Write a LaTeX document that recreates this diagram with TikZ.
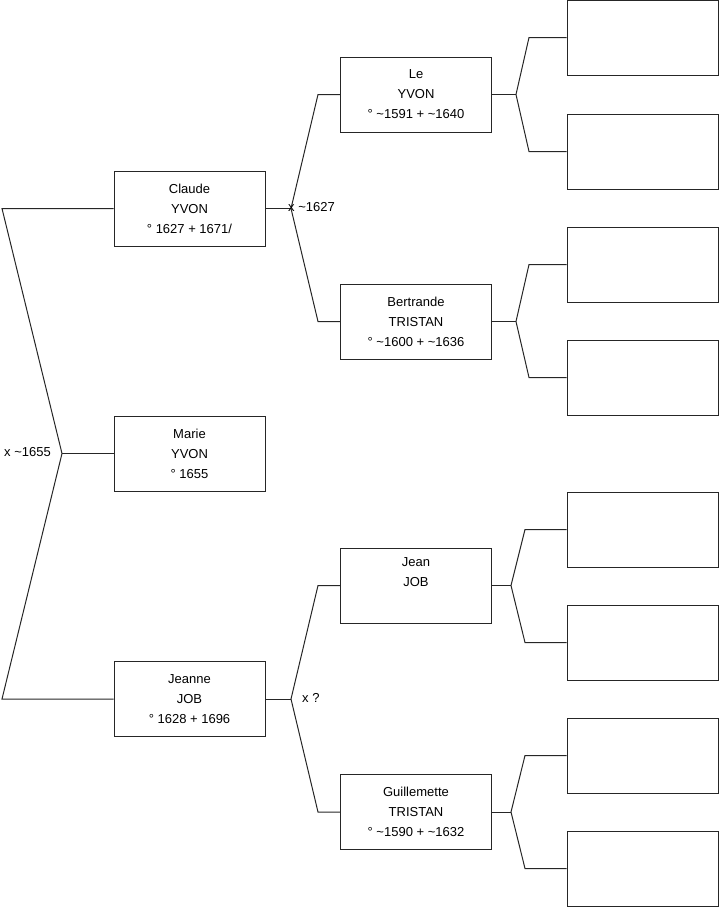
\documentclass[tikz,border=0pt]{standalone}
\usepackage{fontspec}
\setmainfont{Liberation Sans}
\begin{document}
\begin{tikzpicture}[x=1pt,y=-1pt,
  person/.style={draw=black!85, line width=1pt, fill=white, minimum width=151pt, minimum height=75pt,
    inner sep=0pt, align=center, font=\fontsize{13}{20}\selectfont},
  link/.style={draw=black!85, line width=1pt},
  lab/.style={inner sep=0pt, font=\fontsize{13}{16}\selectfont}]
\useasboundingbox (0,0) rectangle (719,908);
% generation 1
\node[person] (claude) at (189.5,208.5) {Claude\\YVON\\° 1627 + 1671/};
\node[person] (marie) at (189.5,453.5) {Marie\\YVON\\° 1655};
\node[person] (jeanne) at (189.5,699) {Jeanne\\JOB\\° 1628 + 1696};
% generation 2
\node[person] (le) at (416,94.5) {Le\\YVON\\° \textasciitilde1591 + \textasciitilde1640};
\node[person] (bert) at (416,321.5) {Bertrande\\TRISTAN\\° \textasciitilde1600 + \textasciitilde1636};
\node[person] (jean) at (416,585.5) {Jean\\JOB\\\strut};
\node[person] (guil) at (416,812) {Guillemette\\TRISTAN\\° \textasciitilde1590 + \textasciitilde1632};
% generation 3
\node[person] (p1) at (642.5,37.5) {};
\node[person] (p2) at (642.5,151.5) {};
\node[person] (p3) at (642.5,264.5) {};
\node[person] (p4) at (642.5,377.5) {};
\node[person] (p5) at (642.5,529.5) {};
\node[person] (p6) at (642.5,642.5) {};
\node[person] (p7) at (642.5,755.5) {};
\node[person] (p8) at (642.5,868.5) {};
% fork points
\coordinate (f0) at (62,453.5);
\coordinate (f0t) at (2,208.5);
\coordinate (f0b) at (2,699);
\coordinate (fc) at (291,208.5);
\coordinate (fct) at (318,94.5);
\coordinate (fcb) at (318,321.5);
\coordinate (fj) at (291,699);
\coordinate (fjt) at (318,585.5);
\coordinate (fjb) at (318,812);
\coordinate (fl) at (516,94.5);
\coordinate (flt) at (529,37.5);
\coordinate (flb) at (529,151.5);
\coordinate (fb) at (516,321.5);
\coordinate (fbt) at (529,264.5);
\coordinate (fbb) at (529,377.5);
\coordinate (fn) at (511,585.5);
\coordinate (fnt) at (525,529.5);
\coordinate (fnb) at (525,642.5);
\coordinate (fg) at (511,812);
\coordinate (fgt) at (525,755.5);
\coordinate (fgb) at (525,868.5);
% connectors
\draw[link] (marie.west) -- (f0);
\draw[link] (claude.west) -- (f0t) -- (f0) -- (f0b) -- (jeanne.west);
\draw[link] (claude.east) -- (fc);
\draw[link] (le.west) -- (fct) -- (fc) -- (fcb) -- (bert.west);
\draw[link] (jeanne.east) -- (fj);
\draw[link] (jean.west) -- (fjt) -- (fj) -- (fjb) -- (guil.west);
\draw[link] (le.east) -- (fl);
\draw[link] (p1.west) -- (flt) -- (fl) -- (flb) -- (p2.west);
\draw[link] (bert.east) -- (fb);
\draw[link] (p3.west) -- (fbt) -- (fb) -- (fbb) -- (p4.west);
\draw[link] (jean.east) -- (fn);
\draw[link] (p5.west) -- (fnt) -- (fn) -- (fnb) -- (p6.west);
\draw[link] (guil.east) -- (fg);
\draw[link] (p7.west) -- (fgt) -- (fg) -- (fgb) -- (p8.west);
% marriage labels
\node[lab, anchor=east] (m0) at (51,452) {x \textasciitilde1655};
\node[lab, anchor=west] (m1) at (288,207) {x \textasciitilde1627};
\node[lab, anchor=west] (m2) at (302,698) {x ?};
\end{tikzpicture}
\end{document}
